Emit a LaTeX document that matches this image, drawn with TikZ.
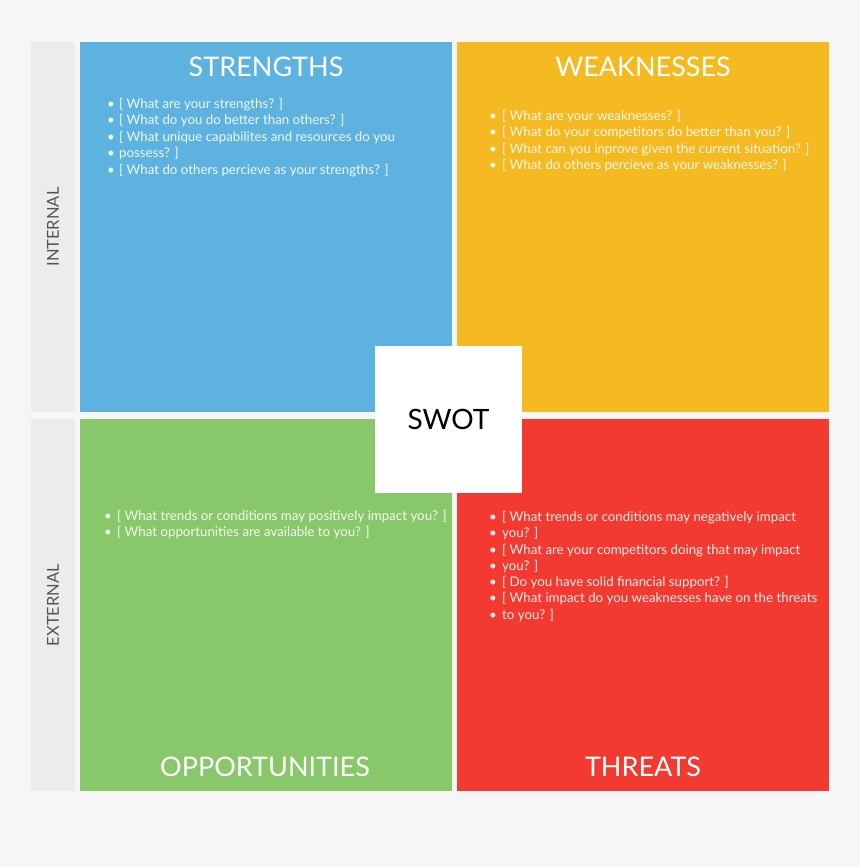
\documentclass[tikz,border=0pt]{standalone}
\usepackage{fontspec}
\setmainfont{Lato}
\definecolor{bg}{HTML}{F6F6F6}
\definecolor{side}{HTML}{ECECEC}
\definecolor{sideText}{HTML}{555555}
\definecolor{qblue}{HTML}{5DB2E0}
\definecolor{qorange}{HTML}{F5B922}
\definecolor{qgreen}{HTML}{88C86A}
\definecolor{qred}{HTML}{F33A31}
\tikzset{
  quad/.style={draw=none, inner sep=0, outer sep=0, anchor=north west, minimum width=372pt, minimum height=371pt},
  sidebar/.style={fill=side, draw=none, inner sep=0, outer sep=0, anchor=north west, minimum width=44pt, minimum height=370pt},
  title/.style={text=white, font=\fontsize{27}{31}\selectfont, inner sep=0, anchor=base},
  item/.style={text=white, text opacity=0.9, font=\fontsize{13.3}{16}\selectfont, inner sep=0, anchor=base west},
  sidelabel/.style={text=sideText, font=\fontsize{16.5}{18}\selectfont, rotate=90, inner sep=0},
}
\begin{document}
\begin{tikzpicture}[x=1pt,y=-1pt]
\fill[bg] (0,0) rectangle (860,867);
\useasboundingbox (0,0) rectangle (860,867);
% side bars
\node[sidebar] (intbar) at (31,42) {};
\node[sidebar, minimum height=372pt] (extbar) at (31,419) {};
\node[sidelabel] (intlab) at (intbar.center) {INTERNAL};
\node[sidelabel] (extlab) at (extbar.center) {EXTERNAL};
% quadrants
\node[quad, fill=qblue, minimum height=370pt] (S) at (80,42) {};
\node[quad, fill=qorange, minimum height=370pt] (W) at (457,42) {};
\node[quad, fill=qgreen, minimum height=372pt] (O) at (80,419) {};
\node[quad, fill=qred, minimum height=372pt] (T) at (457,419) {};
% titles
\node[title] (St) at (266,77) {STRENGTHS};
\node[title] (Wt) at (643,77) {WEAKNESSES};
\node[title] (Ot) at (265,776) {OPPORTUNITIES};
\node[title] (Tt) at (643,776) {THREATS};
% strengths items
\foreach \t [count=\i] in {{[ What are your strengths? ]},{[ What do you do better than others? ]},{[ What unique capabilites and resources do you},{possess? ]},{[ What do others percieve as your strengths? ]}}{
  \node[item] (sb\i) at (107,{108.5+16.4*(\i-1)}) {•};
  \node[item] (si\i) at (119,{108.5+16.4*(\i-1)}) {\t};
}
% weaknesses items
\foreach \t [count=\i] in {{[ What are your weaknesses? ]},{[ What do your competitors do better than you? ]},{[ What can you inprove given the current situation? ]},{[ What do others percieve as your weaknesses? ]}}{
  \node[item] (wb\i) at (489,{120.5+16.4*(\i-1)}) {•};
  \node[item] (wi\i) at (502,{120.5+16.4*(\i-1)}) {\t};
}
% opportunities items
\foreach \t [count=\i] in {{[ What trends or conditions may positively impact you? ]},{[ What opportunities are available to you? ]}}{
  \node[item] (ob\i) at (104,{520.5+16.4*(\i-1)}) {•};
  \node[item] (oi\i) at (117,{520.5+16.4*(\i-1)}) {\t};
}
% threats items
\foreach \t [count=\i] in {{[ What trends or conditions may negatively impact},{you? ]},{[ What are your competitors doing that may impact},{you? ]},{[ Do you have solid financial support? ]},{[ What impact do you weaknesses have on the threats},{to you? ]}}{
  \node[item] (tb\i) at (489,{521.5+16.25*(\i-1)}) {•};
  \node[item] (ti\i) at (502,{521.5+16.25*(\i-1)}) {\t};
}
% center box
\node[fill=white, draw=none, inner sep=0, outer sep=0, anchor=north west, minimum width=147pt, minimum height=147pt] (swotbox) at (375,346) {};
\node[text=black, font=\fontsize{28}{32}\selectfont, inner sep=0] (swot) at (swotbox.center) {SWOT};
\end{tikzpicture}
\end{document}
